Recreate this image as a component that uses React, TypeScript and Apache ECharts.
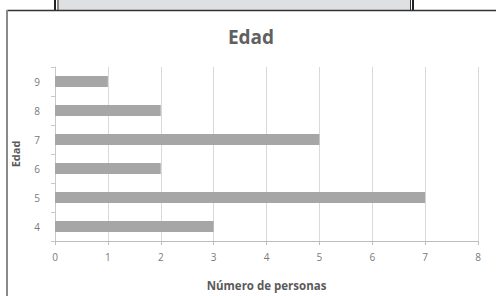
import React, { useEffect, useRef } from "react";
import * as echarts from "echarts";

const ages = ["4", "5", "6", "7", "8", "9"];
const counts = [3, 7, 2, 5, 2, 1];
const xTicks = [0, 8, 1];

export default function App() {
  const ref = useRef<HTMLDivElement>(null);
  useEffect(() => {
    document.body.style.margin = "0";
    const chart = echarts.init(ref.current!, undefined, { renderer: "svg" });
    const font = "'Open Sans', sans-serif";
    chart.setOption({
      animation: false,
      backgroundColor: "#ffffff",
      title: {
        text: "Edad",
        left: 246,
        top: 22,
        textAlign: "center",
        textStyle: { fontFamily: font, fontSize: 19, fontWeight: "bold", color: "#606060" },
      },
      grid: { left: 55, right: 18, top: 67, bottom: 52 },
      xAxis: {
        type: "value",
        min: xTicks[0],
        max: xTicks[1],
        interval: xTicks[2],
        name: "Número de personas",
        nameLocation: "middle",
        nameGap: 38,
        nameTextStyle: { fontFamily: font, fontSize: 11.5, fontWeight: "bold", color: "#5a5a5a" },
        axisLine: { show: true, lineStyle: { color: "#bdbdbd", width: 1 } },
        axisTick: { show: true, length: 4, lineStyle: { color: "#bdbdbd" } },
        axisLabel: { fontFamily: font, fontSize: 10, color: "#7a7a7a", margin: 11 },
        splitLine: { show: true, lineStyle: { color: "#d9d9d9", width: 1 } },
      },
      yAxis: {
        type: "category",
        data: ages,
        name: "Edad",
        nameLocation: "middle",
        nameGap: 34,
        nameRotate: 90,
        nameTextStyle: { fontFamily: font, fontSize: 11, fontWeight: "bold", color: "#5a5a5a" },
        axisLine: { show: true, lineStyle: { color: "#c8c8c8", width: 1 } },
        axisTick: { show: true, length: 4, alignWithLabel: false, lineStyle: { color: "#c8c8c8" } },
        axisLabel: { fontFamily: font, fontSize: 10, color: "#7a7a7a", margin: 15 },
        splitLine: { show: false },
      },
      series: [
        {
          type: "bar",
          data: counts,
          barWidth: 11,
          itemStyle: { color: "#a6a6a6" },
        },
      ],
      graphic: [
        { type: "rect", shape: { x: 57, y: 0, width: 354, height: 10 }, style: { fill: "#dfe0e2" }, silent: true },
        { type: "line", shape: { x1: 55, y1: 0, x2: 55, y2: 10 }, style: { stroke: "#222", lineWidth: 2 } },
        { type: "line", shape: { x1: 58, y1: 0, x2: 58, y2: 10 }, style: { stroke: "#333", lineWidth: 1 } },
        { type: "line", shape: { x1: 410.5, y1: 0, x2: 410.5, y2: 10 }, style: { stroke: "#333", lineWidth: 1 } },
        { type: "line", shape: { x1: 413, y1: 0, x2: 413, y2: 10 }, style: { stroke: "#222", lineWidth: 2 } },
        { type: "line", shape: { x1: 7, y1: 10.5, x2: 496, y2: 10.5 }, style: { stroke: "#333", lineWidth: 1.5 } },
        { type: "line", shape: { x1: 7, y1: 10, x2: 7, y2: 296 }, style: { stroke: "#8a8a8a", lineWidth: 2 } },
      ],
    });
    return () => chart.dispose();
  }, []);
  return <div ref={ref} style={{ width: 496, height: 296 }} />;
}
